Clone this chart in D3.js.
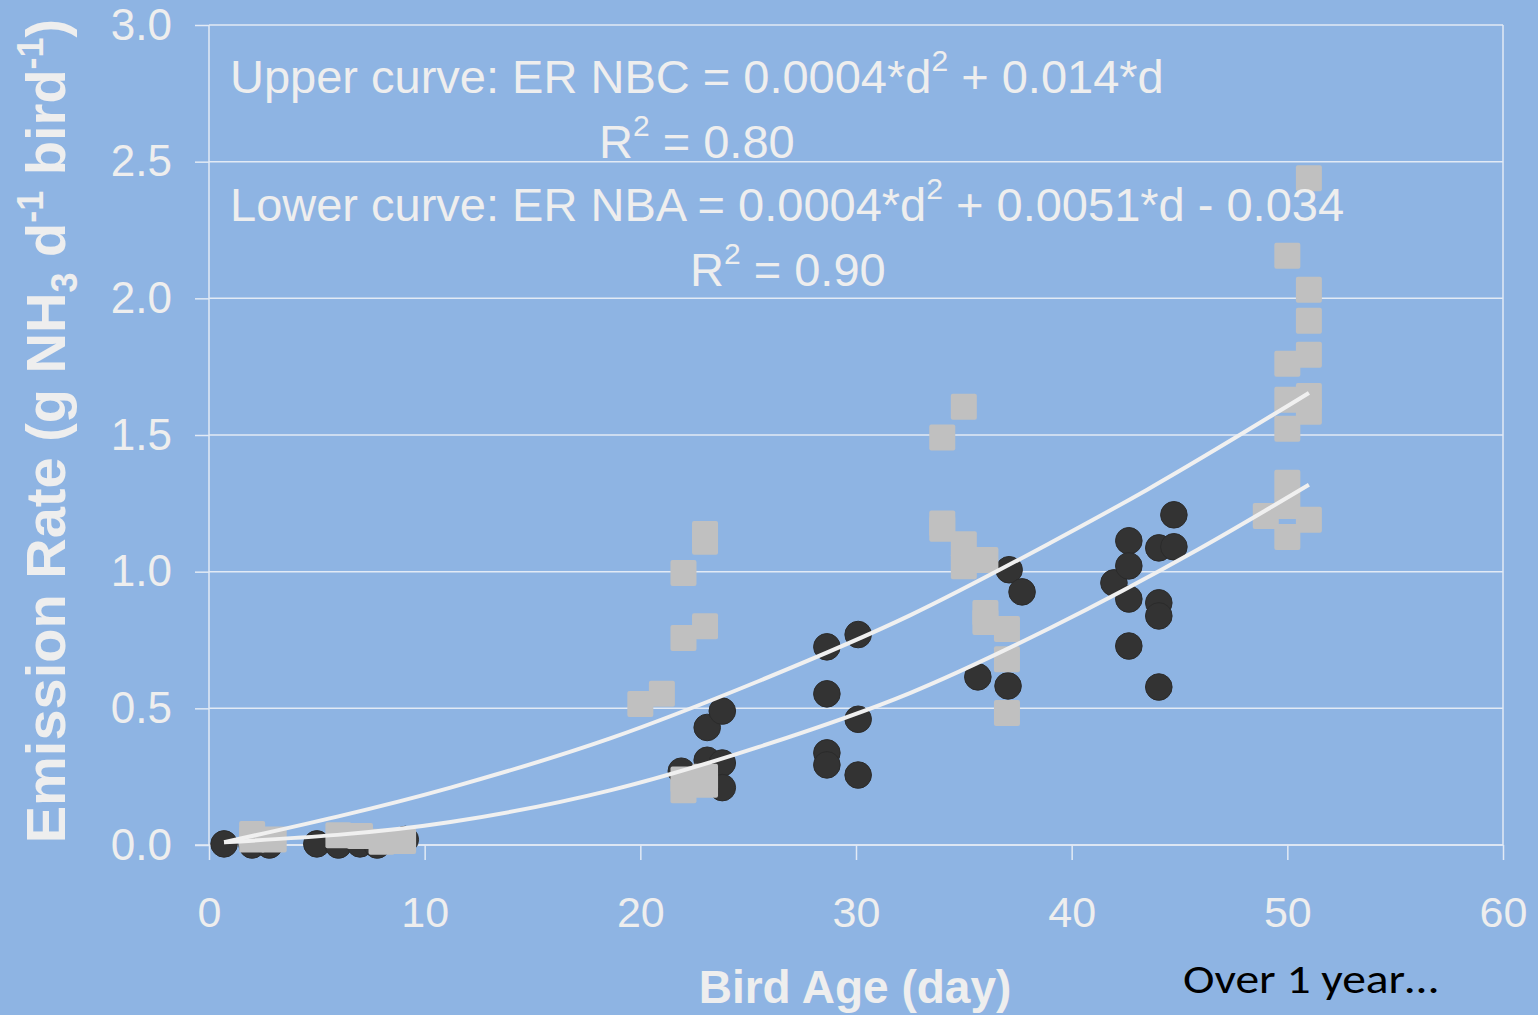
<!DOCTYPE html>
<html>
<head>
<meta charset="utf-8">
<script src="https://cdn.jsdelivr.net/npm/d3@7"></script>
<style>
  body { margin: 0; background: #8EB4E3; }
  svg { display: block; }
</style>
</head>
<body>
<div id="chart"></div>
<script>
var svgWidth = 1538;
var svgHeight = 1015;

// NBC series (grey squares)
var nbcDays = [2, 2, 3, 6, 7, 8, 9,
    20, 21, 22, 22, 22, 22, 23, 23, 23, 23, 23,
    34, 34, 34, 35, 35, 35, 36, 36, 36, 37, 37, 37,
    49, 50, 50, 50, 50, 50, 50, 50, 51, 51, 51, 51, 51, 51, 51];
var nbcRates = [0.04, 0.02, 0.02, 0.036, 0.033, 0.012, 0.015,
    0.516, 0.553, 0.995, 0.757, 0.20, 0.24, 1.138, 1.109, 0.80, 0.22, 0.25,
    1.491, 1.176, 1.157, 1.603, 1.10, 1.02, 1.043, 0.849, 0.816, 0.79, 0.68, 0.483,
    1.204, 2.156, 1.761, 1.629, 1.523, 1.325, 1.24, 1.127, 2.439, 2.031, 1.918, 1.794, 1.643, 1.585, 1.19];

// NBA series (dark circles)
var nbaDays = [0.7, 2.0, 2.8, 5.0, 6.0, 7.0, 7.8, 9.1,
    21.9, 23.1, 23.1, 23.8, 23.8, 23.8,
    28.65, 28.65, 28.65, 28.65, 30.1, 30.1, 30.1,
    35.65, 37.05, 37.1, 37.7,
    41.96, 42.65, 42.65, 42.65, 42.65, 44.04, 44.04, 44.04, 44.04, 44.74, 44.74];
var nbaRates = [0.004, 0.0, 0.0, 0.004, 0.0, 0.004, 0.0, 0.02,
    0.27, 0.43, 0.31, 0.49, 0.30, 0.21,
    0.725, 0.553, 0.337, 0.293, 0.77, 0.46, 0.256,
    0.615, 0.582, 1.007, 0.926,
    0.959, 1.113, 1.021, 0.90, 0.728, 1.087, 0.886, 0.838, 0.578, 1.208, 1.091];

// trend curves
var upperCurveDays = [0.7, 11.2, 18.6, 25.5, 32.5, 39.0, 43.5, 51.0];
var upperCurveRates = [0.01, 0.21, 0.39, 0.60, 0.84, 1.105, 1.30, 1.654];
var lowerCurveDays = [0.7, 11.2, 18.6, 25.5, 32.5, 39.0, 45.9, 51.0];
var lowerCurveRates = [0.01, 0.084, 0.20, 0.359, 0.556, 0.794, 1.083, 1.318];

var xTicks = [0, 10, 20, 30, 40, 50, 60];
var yTicks = [0, 0.5, 1.0, 1.5, 2.0, 2.5, 3.0];

var textColor = "#EEEEEE";
var gridColor = "#E2EAF5";

var svg = d3.select("#chart")
    .append("svg")
    .attr("width", svgWidth)
    .attr("height", svgHeight);

svg.append("rect")
    .attr("width", svgWidth)
    .attr("height", svgHeight)
    .attr("fill", "#8EB4E3");

var xScale = d3.scaleLinear().domain([0, 60]).range([209, 1503]);
var yScale = d3.scaleLinear().domain([0, 3]).range([845, 25]);

// horizontal gridlines (top one is the plot border)
svg.append("g")
    .selectAll("line")
    .data(yTicks)
    .enter()
    .append("line")
    .attr("x1", xScale(0))
    .attr("x2", xScale(60))
    .attr("y1", function(d) { return yScale(d); })
    .attr("y2", function(d) { return yScale(d); })
    .attr("stroke", gridColor)
    .attr("stroke-width", 1.5);

// right border
svg.append("line")
    .attr("x1", xScale(60)).attr("x2", xScale(60))
    .attr("y1", yScale(3)).attr("y2", yScale(0))
    .attr("stroke", gridColor)
    .attr("stroke-width", 1.5);

// x axis
var xAxis = d3.axisBottom(xScale)
    .tickValues(xTicks)
    .tickSize(15)
    .tickPadding(36)
    .tickFormat(d3.format("d"));

var gx = svg.append("g")
    .attr("transform", "translate(0," + yScale(0) + ")")
    .call(xAxis);
gx.select(".domain").remove();
gx.append("line")
    .attr("x1", 195).attr("x2", xScale(60))
    .attr("stroke", gridColor).attr("stroke-width", 1.5);
gx.selectAll(".tick line").attr("stroke", gridColor).attr("stroke-width", 1.5);
gx.selectAll(".tick text")
    .attr("fill", textColor)
    .style("font-family", "'Liberation Sans', Arial, sans-serif")
    .style("font-size", "43px");

// y axis
var yAxis = d3.axisLeft(yScale)
    .tickValues(yTicks)
    .tickSize(14)
    .tickPadding(23)
    .tickFormat(d3.format(".1f"));

var gy = svg.append("g")
    .attr("transform", "translate(" + xScale(0) + ",0)")
    .call(yAxis);
gy.select(".domain")
    .attr("d", "M0," + yScale(3) + "V" + yScale(0))
    .attr("stroke", gridColor)
    .attr("stroke-width", 1.5);
gy.selectAll(".tick line").attr("stroke", gridColor).attr("stroke-width", 1.5);
gy.selectAll(".tick text")
    .attr("fill", textColor)
    .style("font-family", "'Liberation Sans', Arial, sans-serif")
    .style("font-size", "44px");

// circles (NBA)
svg.append("g")
    .selectAll("circle")
    .data(d3.range(nbaDays.length))
    .enter()
    .append("circle")
    .attr("cx", function(i) { return xScale(nbaDays[i]); })
    .attr("cy", function(i) { return yScale(nbaRates[i]); })
    .attr("r", 13.3)
    .attr("fill", "#333333")
    .attr("stroke", "#2B2B2B")
    .attr("stroke-width", 1);

// squares (NBC)
var sq = 26;
svg.append("g")
    .selectAll("rect")
    .data(d3.range(nbcDays.length))
    .enter()
    .append("rect")
    .attr("x", function(i) { return xScale(nbcDays[i]) - sq / 2; })
    .attr("y", function(i) { return yScale(nbcRates[i]) - sq / 2; })
    .attr("width", sq)
    .attr("height", sq)
    .attr("rx", 2)
    .attr("fill", "#C0C0C0");

// trend curves
var line = d3.line()
    .x(function(p) { return xScale(p[0]); })
    .y(function(p) { return yScale(p[1]); })
    .curve(d3.curveMonotoneX);

svg.append("path")
    .attr("d", line(d3.zip(upperCurveDays, upperCurveRates)))
    .attr("fill", "none")
    .attr("stroke", "#F0F0F0")
    .attr("stroke-width", 4);

svg.append("path")
    .attr("d", line(d3.zip(lowerCurveDays, lowerCurveRates)))
    .attr("fill", "none")
    .attr("stroke", "#F0F0F0")
    .attr("stroke-width", 4);

// equation labels: text, superscript "2", text
function eqText(x, y, before, after) {
    var t = svg.append("text")
        .attr("x", x)
        .attr("y", y)
        .attr("fill", textColor)
        .style("font-family", "'Liberation Sans', Arial, sans-serif")
        .style("font-size", "47px");
    t.append("tspan").text(before);
    t.append("tspan").attr("dy", -22).style("font-size", "30px").text("2");
    t.append("tspan").attr("dy", 22).text(after);
    return t;
}

eqText(230, 93, "Upper curve: ER NBC = 0.0004*d", " + 0.014*d");
eqText(599, 158, "R", " = 0.80");
eqText(230, 221, "Lower curve: ER NBA = 0.0004*d", " + 0.0051*d - 0.034");
eqText(690, 286, "R", " = 0.90");

// y axis title
var yTitle = svg.append("text")
    .attr("transform", "translate(65,431) rotate(-90)")
    .attr("text-anchor", "middle")
    .attr("fill", textColor)
    .style("font-family", "'Liberation Sans', Arial, sans-serif")
    .style("font-size", "56px")
    .style("font-weight", "bold");
yTitle.append("tspan").text("Emission Rate (g NH");
yTitle.append("tspan").attr("dy", 12).style("font-size", "36px").text("3");
yTitle.append("tspan").attr("dy", -12).text(" d");
yTitle.append("tspan").attr("dy", -22).style("font-size", "36px").text("-1");
yTitle.append("tspan").attr("dy", 22).text(" bird");
yTitle.append("tspan").attr("dy", -22).style("font-size", "36px").text("-1");
yTitle.append("tspan").attr("dy", 22).text(")");

// x axis title
svg.append("text")
    .attr("x", 855)
    .attr("y", 1003)
    .attr("text-anchor", "middle")
    .attr("fill", textColor)
    .style("font-family", "'Liberation Sans', Arial, sans-serif")
    .style("font-size", "46px")
    .style("font-weight", "bold")
    .text("Bird Age (day)");

svg.append("text")
    .attr("x", 1183)
    .attr("y", 993)
    .attr("fill", "#000000")
    .attr("textLength", 255)
    .attr("lengthAdjust", "spacingAndGlyphs")
    .style("font-family", "Carlito, Calibri, 'Open Sans', sans-serif")
    .style("font-size", "42px")
    .text("Over 1 year\u2026");
</script>
</body>
</html>
